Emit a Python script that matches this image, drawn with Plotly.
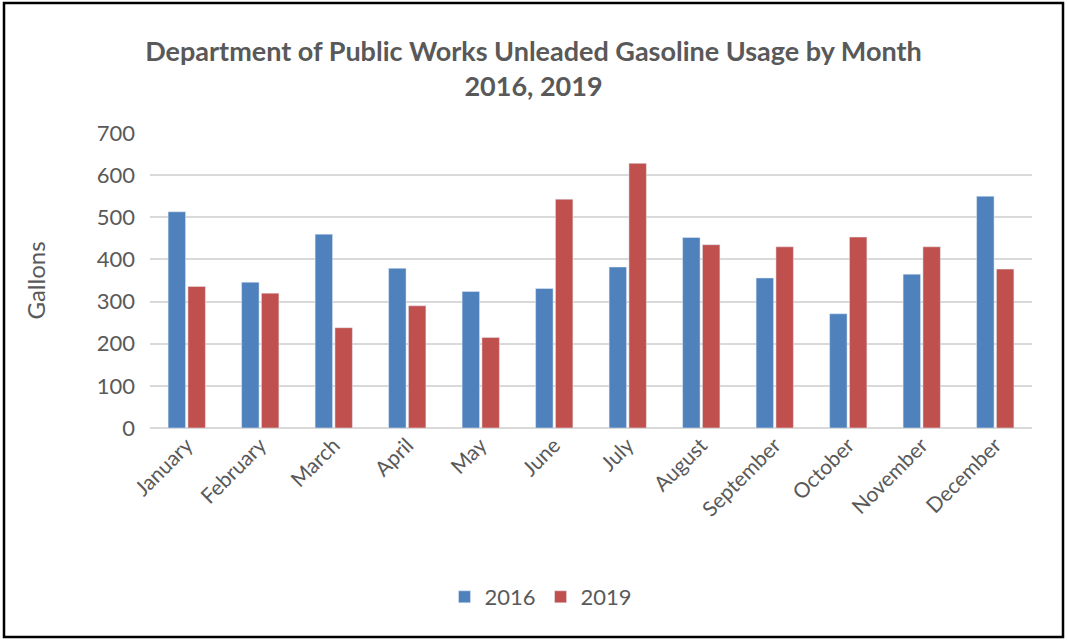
import plotly.graph_objects as go

months = ["January", "February", "March", "April", "May", "June",
          "July", "August", "September", "October", "November", "December"]
usage_2016 = [513, 346, 460, 379, 324, 331, 382, 452, 356, 271, 365, 550]
usage_2019 = [336, 320, 238, 290, 215, 543, 628, 435, 430, 453, 430, 377]
y_ticks = [0, 100, 200, 300, 400, 500, 600, 700]

W, H = 1068, 641
L, R, T, B = 150, 1032, 133, 428  # plot area in pixels

def px(x):
    return (x - L) / (R - L)

def py(y):
    return (B - y) / (B - T)

fig = go.Figure()
fig.add_trace(go.Bar(name="2016", x=months, y=usage_2016, marker_color="#4F81BD"))
fig.add_trace(go.Bar(name="2019", x=months, y=usage_2019, marker_color="#C0504D"))

grey = "#595959"
font = "Lato, Carlito, Calibri, sans-serif"

fig.update_layout(
    width=W, height=H,
    margin=dict(l=L, r=W - R, t=T, b=H - B),
    paper_bgcolor="white", plot_bgcolor="white",
    barmode="group", bargap=0.46, bargroupgap=0.12,
    font=dict(family=font, color=grey),
    title=dict(
        text="<b>Department of Public Works Unleaded Gasoline Usage by Month<br>2016, 2019</b>",
        x=533.5 / W, xref="container", xanchor="center",
        y=1 - 61 / H, yref="container", yanchor="middle",
        font=dict(size=27, color=grey, family=font),
    ),
    xaxis=dict(
        tickangle=-45, tickfont=dict(size=21, color=grey),
        showgrid=False, showline=False, ticks="",
    ),
    yaxis=dict(
        range=[0, 700], tickvals=y_ticks, tickfont=dict(size=22, color=grey),
        showgrid=True, gridcolor="#D9D9D9", gridwidth=1.5,
        zeroline=True, zerolinecolor="#D9D9D9", zerolinewidth=1.5,
        ticks="", ticklen=0, ticklabelstandoff=14,
        title=dict(text="Gallons", font=dict(size=24, color=grey), standoff=44),
    ),
    legend=dict(
        orientation="h", x=541 / W, xanchor="center", xref="container",
        y=1 - 597 / H, yanchor="middle", yref="container",
        font=dict(size=22, color=grey), itemwidth=30,
        traceorder="normal",
    ),
    shapes=[dict(
        type="rect", xref="paper", yref="paper",
        x0=px(4), x1=px(1063), y0=py(3), y1=py(637),
        line=dict(color="black", width=2.5), fillcolor="rgba(0,0,0,0)",
    )],
)

fig.write_html("out.html")
